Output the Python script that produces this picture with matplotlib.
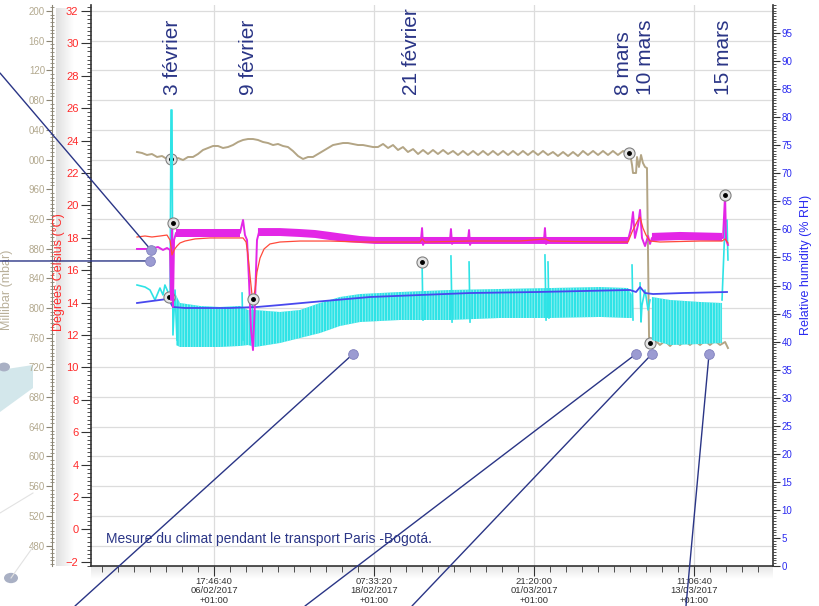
import numpy as np
import pandas as pd
import matplotlib
matplotlib.use('Agg')
import matplotlib.pyplot as plt
from matplotlib.ticker import MultipleLocator, FuncFormatter
from matplotlib.patches import Polygon, Circle

plt.rcParams['font.family'] = ['Liberation Sans', 'DejaVu Sans']
plt.rcParams['hatch.linewidth'] = 0.45

# time origin = first x tick, all times below are in days from it
t0 = pd.Timestamp('2017-02-06 17:46:40')
tick_stamps = ['2017-02-06 17:46:40', '2017-02-18 07:33:20',
               '2017-03-01 21:20:00', '2017-03-13 11:06:40']

# pressure (mbar), tan curve
pres_t = [-5.57, -5.21, -4.85, -4.49, -4.12, -3.76, -3.40, -3.11, -2.89, -2.60,
          -2.24, -1.88, -1.52, -1.16, -0.80, -0.43, -0.07, 0.29, 0.65, 1.01,
          1.37, 1.74, 2.10, 2.46, 2.82, 3.18, 3.54, 3.91, 4.27, 4.63,
          4.99, 5.35, 5.71, 6.08, 6.44, 6.80, 7.16, 7.52, 7.89, 8.25,
          8.61, 8.97, 9.33, 9.69, 10.06, 10.42, 10.78, 11.14, 11.50, 11.86,
          12.23, 12.59, 12.95, 13.31, 13.67, 14.03, 14.40, 14.76, 15.12, 15.48,
          15.84, 16.20, 16.57, 16.93, 17.29, 17.65, 18.01, 18.37, 18.74, 19.10,
          19.46, 19.82, 20.18, 20.54, 20.91, 21.27, 21.63, 21.99, 22.35, 22.71,
          23.08, 23.44, 23.80, 24.16, 24.52, 24.88, 25.25, 25.61, 25.97, 26.33,
          26.69, 27.05, 27.42, 27.78, 28.14, 28.50, 28.86, 29.22, 29.59, 29.95,
          30.09, 30.24, 30.31, 30.53, 30.60, 30.74, 30.89, 31.03, 31.18, 31.32,
          31.47, 31.61,
          31.90, 32.26, 32.62, 32.99, 33.35, 33.71, 34.07, 34.43, 34.79, 35.16,
          35.52, 35.88, 36.24, 36.61, 36.97, 37.18]
pres_v = [1010.1, 1008.8, 1006.1, 1007.4, 1003.4, 1004.7, 1000.7, 999.3, 999.3, 1002.0,
          999.3, 1003.4, 1003.4, 1007.4, 1012.8, 1015.5, 1018.2, 1018.2, 1015.5, 1016.8,
          1019.5, 1023.6, 1026.3, 1027.6, 1027.6, 1026.3, 1023.6, 1022.2, 1019.5, 1020.9,
          1018.2, 1016.8, 1011.5, 1004.7, 1000.7, 1003.4, 1003.4, 1007.4, 1011.5, 1015.5,
          1019.5, 1020.9, 1022.2, 1022.2, 1020.9, 1019.5, 1019.5, 1018.2, 1016.8, 1016.8,
          1020.9, 1015.5, 1019.5, 1012.8, 1016.8, 1010.1, 1014.1, 1007.4, 1012.8, 1007.4,
          1012.8, 1007.4, 1012.8, 1007.4, 1011.5, 1006.1, 1011.5, 1006.1, 1011.5, 1006.1,
          1011.5, 1006.1, 1011.5, 1006.1, 1011.5, 1006.1, 1011.5, 1006.1, 1011.5, 1006.1,
          1011.5, 1006.1, 1011.5, 1006.1, 1010.1, 1004.7, 1010.1, 1004.7, 1010.1, 1004.7,
          1011.5, 1006.1, 1011.5, 1006.1, 1011.5, 1006.1, 1011.5, 1006.1, 1011.5, 1007.4,
          1008.8, 992.6, 981.8, 981.8, 1003.4, 989.9, 1006.1, 995.3, 989.9, 988.5,
          761.0, 752.9,
          756.9, 750.2, 755.6, 748.8, 755.6, 750.2, 755.6, 750.2, 755.6, 750.2,
          755.6, 750.2, 755.6, 750.2, 754.2, 746.1]

# temperature sensor 1 (red, deg C)
red_t = [-5.57, -4.99, -4.49, -3.91, -3.40, -3.18, -3.04, -2.89, -2.68, -2.46,
         -2.10, -1.37, -0.29, 1.16, 2.10, 2.32, 2.46, 2.60, 2.75, 2.82,
         2.97, 3.11, 3.33, 3.62, 4.05, 4.77, 6.22, 8.39, 10.56, 14.90,
         15.05, 15.26, 18.52, 22.14, 23.94, 24.31, 27.92, 29.95, 30.24, 30.60,
         30.82, 31.03, 31.25, 31.54, 32.26, 35.16, 36.75, 36.97, 37.18]
red_v = [18.05, 18.11, 18.05, 18.11, 18.17, 17.86, 16.94, 17.25, 17.49, 17.68,
         17.80, 17.93, 17.99, 17.99, 17.99, 17.74, 16.94, 15.70, 14.47, 14.22,
         14.78, 15.89, 16.75, 17.31, 17.62, 17.74, 17.80, 17.80, 17.74, 17.74,
         17.93, 17.74, 17.80, 17.80, 17.93, 17.80, 17.74, 17.74, 18.36, 18.98,
         19.28, 18.60, 18.17, 17.80, 17.74, 17.80, 17.80, 17.93, 17.68]

# temperature sensor 2 (magenta, deg C)
mag_t = [-5.57, -4.63, -4.05, -3.69, -3.40, -3.18, -3.11, -3.04, -2.97, -2.89,
         -2.75, -1.01, 1.88, 2.10, 2.24, 2.39, 2.53, 2.68, 2.82, 2.97,
         3.11, 3.26, 5.50, 6.94, 8.39, 9.84, 11.29, 14.97, 15.05, 15.12,
         15.26, 17.07, 17.14, 17.22, 17.36, 18.37, 18.45, 18.52, 18.66, 23.87,
         23.94, 24.02, 24.16, 29.95, 30.17, 30.31, 30.45, 30.67, 30.82, 30.96,
         31.18, 31.40, 31.54, 31.68, 35.16, 36.82, 36.97, 37.04, 37.18]
mag_v = [17.31, 17.31, 17.43, 17.25, 17.37, 17.25, 14.16, 18.91, 13.73, 17.86,
         18.30, 18.30, 18.30, 19.10, 18.17, 17.86, 15.40, 12.31, 11.07, 14.16,
         17.86, 18.36, 18.36, 18.30, 18.11, 17.99, 17.86, 17.86, 18.60, 17.56,
         17.86, 17.86, 18.54, 17.62, 17.86, 17.86, 18.48, 17.56, 17.86, 17.86,
         18.60, 17.62, 17.86, 17.86, 18.60, 19.59, 17.99, 18.79, 19.72, 17.99,
         17.49, 18.11, 17.62, 17.99, 17.99, 17.99, 20.64, 17.86, 17.56]
# noise envelope of the magenta trace
magb_t = [-2.75, -1.01, 0.43, 1.88, 2.5, 3.18, 4.77, 6.22, 7.31, 8.39,
          9.48, 10.56, 11.65, 17.07, 24.31, 29.95, 30.8, 31.68, 33.71, 36.75]
magb_lo = [18.05, 18.05, 18.05, 18.05, np.nan, 18.11, 18.11, 18.05, 17.99, 17.86,
           17.74, 17.68, 17.62, 17.62, 17.62, 17.62, np.nan, 17.80, 17.86, 17.80]
magb_hi = [18.54, 18.54, 18.54, 18.54, np.nan, 18.60, 18.60, 18.54, 18.48, 18.36,
           18.23, 18.11, 18.05, 18.05, 18.05, 18.05, np.nan, 18.30, 18.36, 18.30]

# humidity sensor 1 (blue, %RH)
blue_t = [-5.57, -3.40, -3.18, -2.97, -2.10, 1.16, 3.11, 4.77, 7.16, 9.62,
          11.29, 18.52, 23.37, 30.09, 30.53, 30.82, 31.18, 31.76, 33.93, 37.11]
blue_v = [46.88, 47.59, 47.06, 46.17, 45.99, 45.99, 46.17, 46.52, 47.06, 47.59,
          47.95, 48.66, 48.84, 49.20, 48.84, 49.73, 48.66, 48.48, 48.66, 48.84]

# humidity sensor 2 (cyan, %RH): trace and spikes
cyan_t = [-5.57, -4.99, -4.63, -4.27, -3.91, -3.69, -3.55, -3.33, -3.18, -3.11,
          -3.04, -2.97, -2.82, -2.68, np.nan,
          2.03, 2.10, np.nan, 2.75, 2.82, np.nan,
          15.05, 15.12, np.nan, 17.14, 17.22, np.nan, 18.45, 18.52, np.nan,
          23.94, 24.02, np.nan, 24.16, 24.23, np.nan, 30.24, 30.31, np.nan,
          30.82, 30.89, 30.96, 31.18, 31.40, 31.54, np.nan,
          36.75, 36.97, 37.11, 37.18]
cyan_v = [50.09, 49.73, 49.20, 47.42, 49.55, 48.31, 50.09, 48.84, 47.42, 81.28,
          81.28, 41.18, 49.20, 40.29, np.nan,
          48.66, 40.29, np.nan, 47.95, 42.07, np.nan,
          54.19, 43.85, np.nan, 55.26, 43.49, np.nan, 54.19, 43.49, np.nan,
          55.44, 43.85, np.nan, 54.19, 44.21, np.nan, 53.65, 43.85, np.nan,
          50.45, 43.49, 46.52, 49.20, 45.63, 47.42, np.nan,
          47.42, 61.32, 61.68, 54.55]
# envelope of the fast oscillating cyan band
cyb_t = [-2.75, -2.46, -1.01, 0.43, 1.88, 2.46, 2.97, 4.77, 6.22, 7.67,
         9.11, 10.56, 13.45, 17.07, 20.69, 24.31, 27.92, 29.95, 30.24, 30.9,
         31.68, 32.99, 35.16, 36.75]
cyb_hi = [48.31, 46.88, 46.35, 46.17, 46.35, 45.63, 45.63, 45.28, 45.63, 46.88,
          47.95, 48.48, 48.84, 49.20, 49.38, 49.55, 49.73, 49.55, 48.31, np.nan,
          47.95, 47.42, 47.06, 46.88]
cyb_lo = [39.39, 39.04, 39.04, 39.04, 39.22, 39.39, 39.04, 39.75, 40.64, 41.53,
          42.78, 43.49, 43.85, 43.85, 44.21, 44.21, 44.39, 44.21, 44.21, np.nan,
          40.29, 39.39, 39.57, 39.75]

# circled measurement markers
mkp_t, mkp_v = [-3.11, 30.02, 31.54], [1000.7, 1008.8, 752.9]
mkt_t, mkt_v = [-2.97, 2.82, 36.97], [18.91, 14.22, 20.64]
mkh_t, mkh_v = [-3.26, 15.05], [47.95, 54.19]

# event labels
ev_t = [-2.97, 2.46, 14.32, 29.59, 31.18, 36.89]
ev_txt = ['3 février', '9 février', '21 février', '8 mars', '10 mars', '15 mars']

# annotation anchors (temperature axis) and where their leader lines leave the picture
anc_t = [-4.56, -4.63, 10.06, 30.53, 31.68, 35.81]
anc_v = [17.25, 16.57, 10.83, 10.83, 10.83, 10.83]
anc_end = [(0, 533), (0, 345), (75, 0), (305, 0), (412, 0), (686, 0)]

NAVY = '#2a3586'

W, H = 820, 606
fig = plt.figure(figsize=(W / 100, H / 100), dpi=100)

def fr(x, y):
    return x / W, 1 - y / H

# faint background pieces on the left
fig.patches.append(Polygon([fr(0, 370), fr(33, 365), fr(33, 388), fr(0, 412)],
                           closed=True, transform=fig.transFigure,
                           facecolor='#d3e7eb', edgecolor='none', zorder=-5))
for cx, cy, r in [(4, 367, 6), (11, 578, 7)]:
    fig.patches.append(Circle(fr(cx, cy), r / W, transform=fig.transFigure,
                              facecolor='#a9b0c4', edgecolor='none', zorder=-4))
for (xa, ya), (xb, yb) in [((11, 578), (33, 547)), ((0, 513), (33, 493))]:
    fig.add_artist(plt.Line2D([xa / W, xb / W], [1 - ya / H, 1 - yb / H],
                              transform=fig.transFigure, color='#e2e2e2', lw=0.8))

# faint ruler shading
grad = np.linspace(0, 1, 64)
ax_g1 = fig.add_axes([56 / W, 1 - 566 / H, 18 / W, 558 / H], zorder=-3)
ax_g1.imshow(grad[None, :], aspect='auto', cmap='gray', vmin=-7, vmax=1)
ax_g1.axis('off')
ax_g2 = fig.add_axes([91 / W, 1 - 579 / H, 682 / W, 13 / H], zorder=-3)
ax_g2.imshow(grad[:, None], aspect='auto', cmap='gray', vmin=-9, vmax=1)
ax_g2.axis('off')

L, R, B, T = 91, 773, 566, 5
rect = [L / W, 1 - B / H, (R - L) / W, (B - T) / H]
ax_p = fig.add_axes(rect, zorder=0)
ax_h = ax_p.twinx()
ax_t = ax_p.twinx()
ax_h.set_zorder(1)
ax_t.set_zorder(2)

xticks = [(pd.Timestamp(s) - t0) / pd.Timedelta('1D') for s in tick_stamps]
xlabels = [pd.Timestamp(s).strftime('%H:%M:%S\n%d/%m/%Y\n+01:00') for s in tick_stamps]
ax_p.set_xlim(-8.898, 40.437)
ax_p.set_xticks(xticks)
ax_p.set_xticklabels(xlabels, fontsize=6.8, color='#333333', linespacing=1.05)
ax_p.xaxis.set_minor_locator(MultipleLocator(1e5 / 86400))
ax_p.tick_params(axis='x', which='major', length=7, color='#333333', pad=1)
ax_p.tick_params(axis='x', which='minor', length=4, color='#333333')

# pressure axis
ax_p.set_ylim(452.5, 1208.1)
ax_p.yaxis.set_major_locator(MultipleLocator(40))
ax_p.yaxis.set_minor_locator(MultipleLocator(5))
ax_p.yaxis.set_major_formatter(FuncFormatter(lambda v, p: f'{int(round(v)) % 1000:03d}'))
ax_p.tick_params(axis='y', which='major', length=4, color='#8a8474', labelsize=7,
                 labelcolor='#b3a98f', pad=1)
ax_p.tick_params(axis='y', which='minor', length=3, direction='inout', color='#8a8474')
ax_p.spines['left'].set_position(('axes', (52 - L) / (R - L)))
ax_p.spines['left'].set_color('#8a8474')
ax_p.spines['top'].set_visible(False)
ax_p.spines['right'].set_visible(False)
ax_p.spines['bottom'].set_color('#333333')
ax_p.spines['bottom'].set_linewidth(1.2)
ax_p.set_ylabel('Millibar (mbar)', color='#b9b09a', fontsize=9)
ax_p.yaxis.set_label_coords((13 - L) / (R - L), (B - 290) / (B - T))
ax_p.grid(True, axis='both', which='major', color='#dcdcdc', lw=0.9)

ax_p.plot(pres_t, pres_v, color='#b3a585', lw=1.4)
ax_p.plot(mkp_t, mkp_v, 'o', ms=8, mfc='#e4e4e4', mec='#808080', mew=0.8, zorder=5)
ax_p.plot(mkp_t, mkp_v, 'o', ms=2.5, color='black', zorder=6)

# humidity axis (right)
ax_h.set_ylim(0, 100)
ax_h.set_yticks(range(0, 100, 5))
ax_h.yaxis.set_minor_locator(MultipleLocator(0.5))
ax_h.tick_params(axis='y', which='major', length=5, color='#333333', labelsize=7,
                 labelcolor='#2a2af0', pad=1)
ax_h.tick_params(axis='y', which='minor', length=2.5, color='#333333')
for s in ['left', 'top', 'bottom']:
    ax_h.spines[s].set_visible(False)
ax_h.spines['right'].set_color('#333333')
ax_h.spines['right'].set_linewidth(1.2)
ax_h.set_ylabel('Relative humidity (% RH)', color='#2a2af0', fontsize=9)
ax_h.yaxis.set_label_coords((800 - L) / (R - L), (B - 265) / (B - T))

ax_h.fill_between(cyb_t, cyb_lo, cyb_hi, facecolor='#2ee3e6', edgecolor='#b8f4f5',
                  hatch='||||||', lw=0)
ax_h.plot(cyan_t, cyan_v, color='#2ee3e6', lw=1.2)
ax_h.plot(blue_t, blue_v, color='#4848ee', lw=1.3)
ax_h.plot(mkh_t, mkh_v, 'o', ms=8, mfc='#e4e4e4', mec='#808080', mew=0.8, zorder=5)
ax_h.plot(mkh_t, mkh_v, 'o', ms=2.5, color='black', zorder=6)

# temperature axis (left, red)
ax_t.yaxis.tick_left()
ax_t.yaxis.set_label_position('left')
ax_t.set_ylim(-2.26, 32.37)
ax_t.set_yticks(range(-2, 33, 2))
ax_t.yaxis.set_minor_locator(MultipleLocator(0.25))
ax_t.tick_params(axis='y', which='major', length=7, color='#333333', labelsize=8,
                 labelcolor='#ff2a2a', pad=2)
ax_t.tick_params(axis='y', which='minor', length=3, color='#333333')
for s in ['right', 'top', 'bottom']:
    ax_t.spines[s].set_visible(False)
ax_t.spines['left'].set_color('#333333')
ax_t.spines['left'].set_linewidth(1.2)
ax_t.set_ylabel('Degrees Celsius (°C)', color='#ff2a2a', fontsize=9)
ax_t.yaxis.set_label_coords((65 - L) / (R - L), (B - 272) / (B - T))

ax_t.fill_between(magb_t, magb_lo, magb_hi, color='#e326e6', lw=0)
ax_t.plot(mag_t, mag_v, color='#e326e6', lw=1.4)
ax_t.plot(red_t, red_v, color='#ff4a3a', lw=0.9)
ax_t.plot(mkt_t, mkt_v, 'o', ms=8, mfc='#e4e4e4', mec='#808080', mew=0.8, zorder=5)
ax_t.plot(mkt_t, mkt_v, 'o', ms=2.5, color='black', zorder=6)

for t, txt in zip(ev_t, ev_txt):
    ax_t.text(t, (B - 95) / (B - T), txt, transform=ax_t.get_xaxis_transform(),
              rotation=90, ha='center', va='bottom', fontsize=15, color=NAVY)

for t, v, end in zip(anc_t, anc_v, anc_end):
    ax_t.annotate('', xy=(t, v), xycoords='data', xytext=end, textcoords='figure pixels',
                  arrowprops=dict(arrowstyle='-', color=NAVY, lw=1.0,
                                  shrinkA=0, shrinkB=0))
ax_t.plot(anc_t, anc_v, 'o', ms=7, mfc='#9b9bd2', mec='#8080bd', mew=0.6,
          clip_on=False, zorder=7)

ax_t.text((106 - L) / (R - L), (B - 539) / (B - T),
          'Mesure du climat pendant le transport Paris -Bogotá.',
          transform=ax_t.transAxes, fontsize=10, color=NAVY, va='center', ha='left')

fig.savefig('out.png', dpi=100)
